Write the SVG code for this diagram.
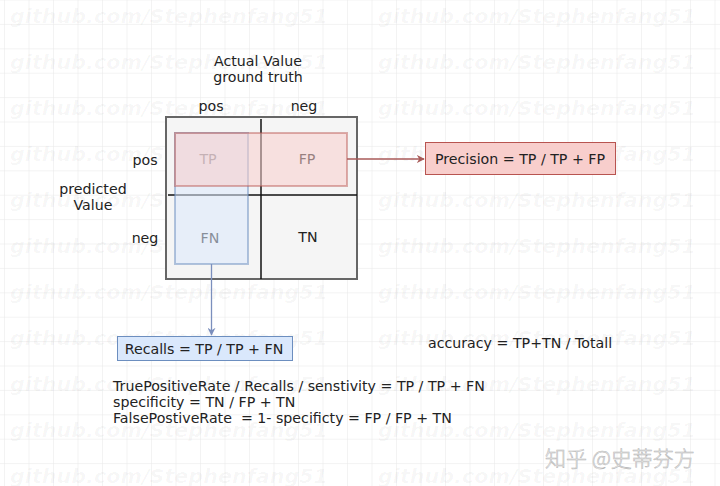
<svg xmlns="http://www.w3.org/2000/svg" width="720" height="486" viewBox="0 0 720 486">
<defs>
<pattern id="grid" x="5" y="0.5" width="24.5" height="24.4" patternUnits="userSpaceOnUse">
<path d="M24.5 0V24.4M0 24.4H24.5" fill="none" stroke="#e8e8e8" stroke-width="1"/>
</pattern>
<marker id="arrRed" viewBox="0 0 10 10" refX="9" refY="5" markerWidth="8" markerHeight="8" markerUnits="userSpaceOnUse" orient="auto">
<path d="M0 0L10 5L0 10L3 5Z" fill="#a85a58"/>
</marker>
<marker id="arrBlue" viewBox="0 0 10 10" refX="9" refY="5" markerWidth="8" markerHeight="8" markerUnits="userSpaceOnUse" orient="auto">
<path d="M0 0L10 5L0 10L3 5Z" fill="#7b8fbd"/>
</marker>
</defs>
<style>
.t{font-family:"DejaVu Sans",Verdana,sans-serif;font-size:14.2px;fill:#222}
.c{text-anchor:middle}
.wm{font-family:"DejaVu Sans",sans-serif;font-size:19px;font-weight:bold;font-style:italic;fill:#000;fill-opacity:0.035}
</style>
<rect width="720" height="486" fill="#ffffff"/>
<rect width="720" height="486" fill="url(#grid)"/>
<g id="watermarks">
<text class="wm" x="10" y="23" textLength="318" lengthAdjust="spacingAndGlyphs">github.com/Stephenfang51</text>
<text class="wm" x="10" y="69" textLength="318" lengthAdjust="spacingAndGlyphs">github.com/Stephenfang51</text>
<text class="wm" x="10" y="115" textLength="318" lengthAdjust="spacingAndGlyphs">github.com/Stephenfang51</text>
<text class="wm" x="10" y="161" textLength="318" lengthAdjust="spacingAndGlyphs">github.com/Stephenfang51</text>
<text class="wm" x="10" y="207" textLength="318" lengthAdjust="spacingAndGlyphs">github.com/Stephenfang51</text>
<text class="wm" x="10" y="253" textLength="318" lengthAdjust="spacingAndGlyphs">github.com/Stephenfang51</text>
<text class="wm" x="10" y="299" textLength="318" lengthAdjust="spacingAndGlyphs">github.com/Stephenfang51</text>
<text class="wm" x="10" y="345" textLength="318" lengthAdjust="spacingAndGlyphs">github.com/Stephenfang51</text>
<text class="wm" x="10" y="391" textLength="318" lengthAdjust="spacingAndGlyphs">github.com/Stephenfang51</text>
<text class="wm" x="10" y="437" textLength="318" lengthAdjust="spacingAndGlyphs">github.com/Stephenfang51</text>
<text class="wm" x="10" y="483" textLength="318" lengthAdjust="spacingAndGlyphs">github.com/Stephenfang51</text>
<text class="wm" x="378" y="23" textLength="318" lengthAdjust="spacingAndGlyphs">github.com/Stephenfang51</text>
<text class="wm" x="378" y="69" textLength="318" lengthAdjust="spacingAndGlyphs">github.com/Stephenfang51</text>
<text class="wm" x="378" y="115" textLength="318" lengthAdjust="spacingAndGlyphs">github.com/Stephenfang51</text>
<text class="wm" x="378" y="161" textLength="318" lengthAdjust="spacingAndGlyphs">github.com/Stephenfang51</text>
<text class="wm" x="378" y="207" textLength="318" lengthAdjust="spacingAndGlyphs">github.com/Stephenfang51</text>
<text class="wm" x="378" y="253" textLength="318" lengthAdjust="spacingAndGlyphs">github.com/Stephenfang51</text>
<text class="wm" x="378" y="299" textLength="318" lengthAdjust="spacingAndGlyphs">github.com/Stephenfang51</text>
<text class="wm" x="378" y="345" textLength="318" lengthAdjust="spacingAndGlyphs">github.com/Stephenfang51</text>
<text class="wm" x="378" y="391" textLength="318" lengthAdjust="spacingAndGlyphs">github.com/Stephenfang51</text>
<text class="wm" x="378" y="437" textLength="318" lengthAdjust="spacingAndGlyphs">github.com/Stephenfang51</text>
<text class="wm" x="378" y="483" textLength="318" lengthAdjust="spacingAndGlyphs">github.com/Stephenfang51</text>
</g>
<g id="labels">
<text class="t c" x="258" y="66">Actual Value</text>
<text class="t c" x="258" y="82">ground truth</text>
<text class="t c" x="211" y="111">pos</text>
<text class="t c" x="304" y="111">neg</text>
<text class="t c" x="145" y="165">pos</text>
<text class="t c" x="145" y="243">neg</text>
<text class="t c" x="93" y="194">predicted</text>
<text class="t c" x="93" y="210">Value</text>
</g>
<g id="matrix">
<rect x="166" y="117" width="191" height="162" fill="#f5f5f5" stroke="#666666" stroke-width="2"/>
<line x1="261" y1="119" x2="261" y2="279" stroke="#111" stroke-width="1.5"/>
<line x1="168" y1="195" x2="357" y2="195" stroke="#111" stroke-width="1.5"/>
<text class="t c" x="307" y="164">FP</text>
<text class="t c" x="208" y="164">TP</text>
<text class="t c" x="210" y="243">FN</text>
<text class="t c" x="308" y="242">TN</text>
</g>
<g id="recall-region">
<rect x="175" y="133" width="73" height="131" fill="#dae8fc" fill-opacity="0.55" stroke="#6c8ebf" stroke-opacity="0.5" stroke-width="2"/>
</g>
<g id="precision-region">
<rect x="175" y="133" width="172" height="53" fill="#f8cecc" fill-opacity="0.55" stroke="#b85450" stroke-opacity="0.45" stroke-width="2"/>
</g>
<g id="connectors">
<path d="M347 159H424" fill="none" stroke="#a85a58" stroke-width="1.3" marker-end="url(#arrRed)"/>
<path d="M211.5 264V335" fill="none" stroke="#7b8fbd" stroke-width="1.3" marker-end="url(#arrBlue)"/>
</g>
<g id="precision">
<rect x="425.5" y="142.5" width="190" height="32" fill="#f8cecc" stroke="#b85450" stroke-width="1"/>
<text class="t c" x="520" y="163.5">Precision = TP / TP + FP</text>
</g>
<g id="recalls">
<rect x="117.5" y="336.5" width="175" height="24" fill="#dae8fc" stroke="#6c8ebf" stroke-width="1"/>
<text class="t c" x="204" y="353.5">Recalls = TP / TP + FN</text>
</g>
<g id="accuracy">
<text class="t" x="428" y="348">accuracy = TP+TN / Totall</text>
</g>
<g id="formulas">
<text class="t" x="113" y="391">TruePositiveRate / Recalls / senstivity = TP / TP + FN</text>
<text class="t" x="113" y="407">specificity = TN / FP + TN</text>
<text class="t" x="113" y="423" xml:space="preserve">FalsePostiveRate  = 1- specificty = FP / FP + TN</text>
</g>
<g id="credit">
<text x="545" y="466" font-family="'Noto Sans CJK SC',sans-serif" font-size="21" font-weight="300" fill="#f2f2f2" stroke="#b4b4b4" stroke-width="0.5">知乎 @史蒂芬方</text>
</g>
</svg>
